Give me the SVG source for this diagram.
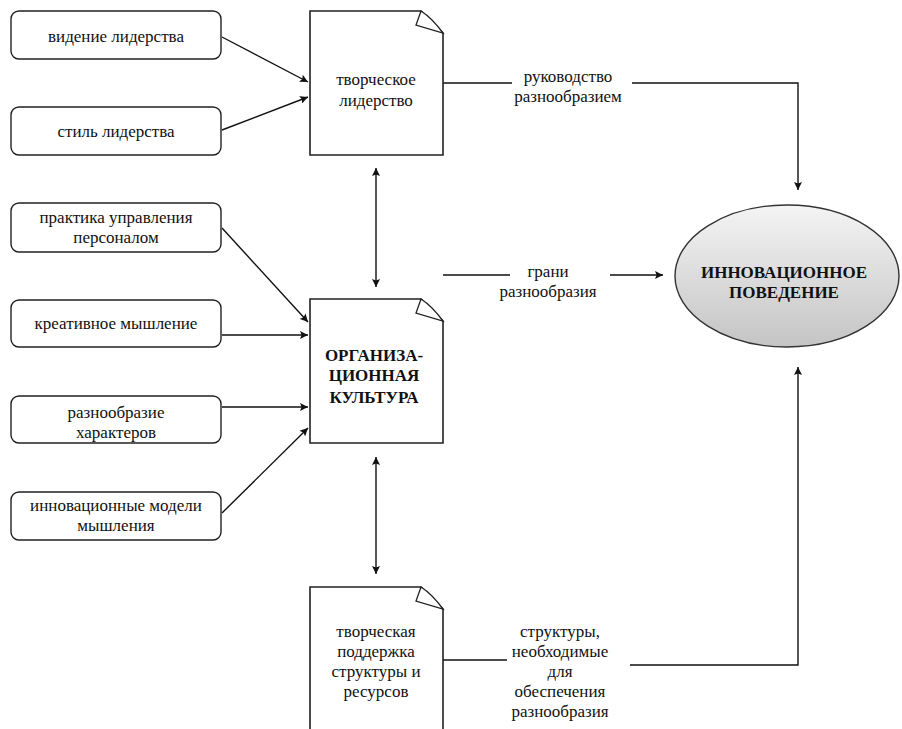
<svg xmlns="http://www.w3.org/2000/svg" width="902" height="729" viewBox="0 0 902 729">
<defs>
<marker id="ah" viewBox="0 0 10 10" refX="10" refY="5" markerWidth="8" markerHeight="8" markerUnits="userSpaceOnUse" orient="auto-start-reverse">
<path d="M0,0 L10,5 L0,10 L2,5 Z" fill="#111"/>
</marker>
<linearGradient id="eg" x1="0" y1="0" x2="0" y2="1">
<stop offset="0" stop-color="#f4f4f4"/>
<stop offset="1" stop-color="#c4c4c4"/>
</linearGradient>
<style>
.box{fill:#fff;stroke:#222;stroke-width:1.4}
.doc{fill:#fff;stroke:#222;stroke-width:1.6}
.fold{fill:#fff;stroke:#222;stroke-width:1.3}
.t{font-size:17px;fill:#111;text-anchor:middle}
.b{font-size:17px;font-weight:bold;fill:#111;text-anchor:middle}
.l{font-size:17px;fill:#111;text-anchor:middle}
.c{fill:none;stroke:#111;stroke-width:1.4}
.a{fill:none;stroke:#111;stroke-width:1.4;marker-end:url(#ah)}
.d{fill:none;stroke:#111;stroke-width:1.4;marker-end:url(#ah);marker-start:url(#ah)}
</style>
</defs>
<rect width="902" height="729" fill="#fff"/>
<g font-family="'Liberation Serif', Tinos, 'DejaVu Serif', 'Times New Roman', serif">
<g id="connectors">
<line class="a" x1="222" y1="37" x2="308" y2="82"/>
<line class="a" x1="222" y1="130" x2="308" y2="97"/>
<line class="d" x1="376" y1="168" x2="376" y2="287"/>
<line class="a" x1="222" y1="228" x2="308" y2="322"/>
<line class="a" x1="222" y1="335" x2="308" y2="335"/>
<line class="a" x1="222" y1="407" x2="308" y2="407"/>
<line class="a" x1="222" y1="513" x2="308" y2="428"/>
<line class="d" x1="376" y1="457" x2="376" y2="574"/>
<line class="c" x1="443" y1="83" x2="512" y2="83"/>
<path class="a" d="M632,83 H798 V190"/>
<line class="c" x1="443" y1="275" x2="510" y2="275"/>
<line class="a" x1="610" y1="275" x2="663" y2="275"/>
<line class="c" x1="443" y1="660" x2="507" y2="660"/>
<path class="a" d="M630,665 H798 V367"/>
<text class="l" x="568" y="82">руководство</text>
<text class="l" x="568" y="102">разнообразием</text>
<text class="l" x="548" y="277">грани</text>
<text class="l" x="548" y="297">разнообразия</text>
<text class="l" x="560" y="637">структуры,</text>
<text class="l" x="560" y="657">необходимые</text>
<text class="l" x="560" y="677">для</text>
<text class="l" x="560" y="697">обеспечения</text>
<text class="l" x="560" y="717">разнообразия</text>
</g>

<g id="n1">
<rect class="box" x="11" y="11" width="210" height="48" rx="8"/>
<text class="t" x="116" y="42">видение лидерства</text>
</g>
<g id="n2">
<rect class="box" x="11" y="107" width="210" height="48" rx="8"/>
<text class="t" x="116" y="137">стиль лидерства</text>
</g>
<g id="n3">
<rect class="box" x="11" y="203" width="210" height="49" rx="8"/>
<text class="t" x="116" y="223">практика управления</text>
<text class="t" x="116" y="243">персоналом</text>
</g>
<g id="n4">
<rect class="box" x="11" y="300" width="210" height="47" rx="8"/>
<text class="t" x="116" y="329">креативное мышление</text>
</g>
<g id="n5">
<rect class="box" x="11" y="396" width="210" height="47" rx="8"/>
<text class="t" x="116" y="418">разнообразие</text>
<text class="t" x="116" y="438">характеров</text>
</g>
<g id="n6">
<rect class="box" x="11" y="492" width="210" height="48" rx="8"/>
<text class="t" x="116" y="511">инновационные модели</text>
<text class="t" x="116" y="531">мышления</text>
</g>

<g id="doc1">
<path class="doc" d="M310,11 H421 L443,33 V155 H310 Z"/>
<path class="fold" d="M421,11 L416,25 L443,33 Q432,18 421,11 Z"/>
<text class="t" x="376" y="85">творческое</text>
<text class="t" x="376" y="106">лидерство</text>
</g>
<g id="doc2">
<path class="doc" d="M310,299 H421 L443,321 V443 H310 Z"/>
<path class="fold" d="M421,299 L416,313 L443,321 Q432,306 421,299 Z"/>
<text class="b" x="374" y="361">ОРГАНИЗА-</text>
<text class="b" x="374" y="381">ЦИОННАЯ</text>
<text class="b" x="374" y="403">КУЛЬТУРА</text>
</g>
<g id="doc3">
<path class="doc" d="M310,587 H421 L443,609 V735 H310 Z"/>
<path class="fold" d="M421,587 L416,601 L443,609 Q432,594 421,587 Z"/>
<text class="t" x="376" y="637">творческая</text>
<text class="t" x="376" y="657">поддержка</text>
<text class="t" x="376" y="677">структуры и</text>
<text class="t" x="376" y="697">ресурсов</text>
</g>

<g id="target">
<ellipse cx="787" cy="276" rx="112" ry="71" fill="url(#eg)" stroke="#333" stroke-width="1.4"/>
<text class="b" x="784" y="278">ИННОВАЦИОННОЕ</text>
<text class="b" x="784" y="298">ПОВЕДЕНИЕ</text>
</g>
</g>
</svg>
